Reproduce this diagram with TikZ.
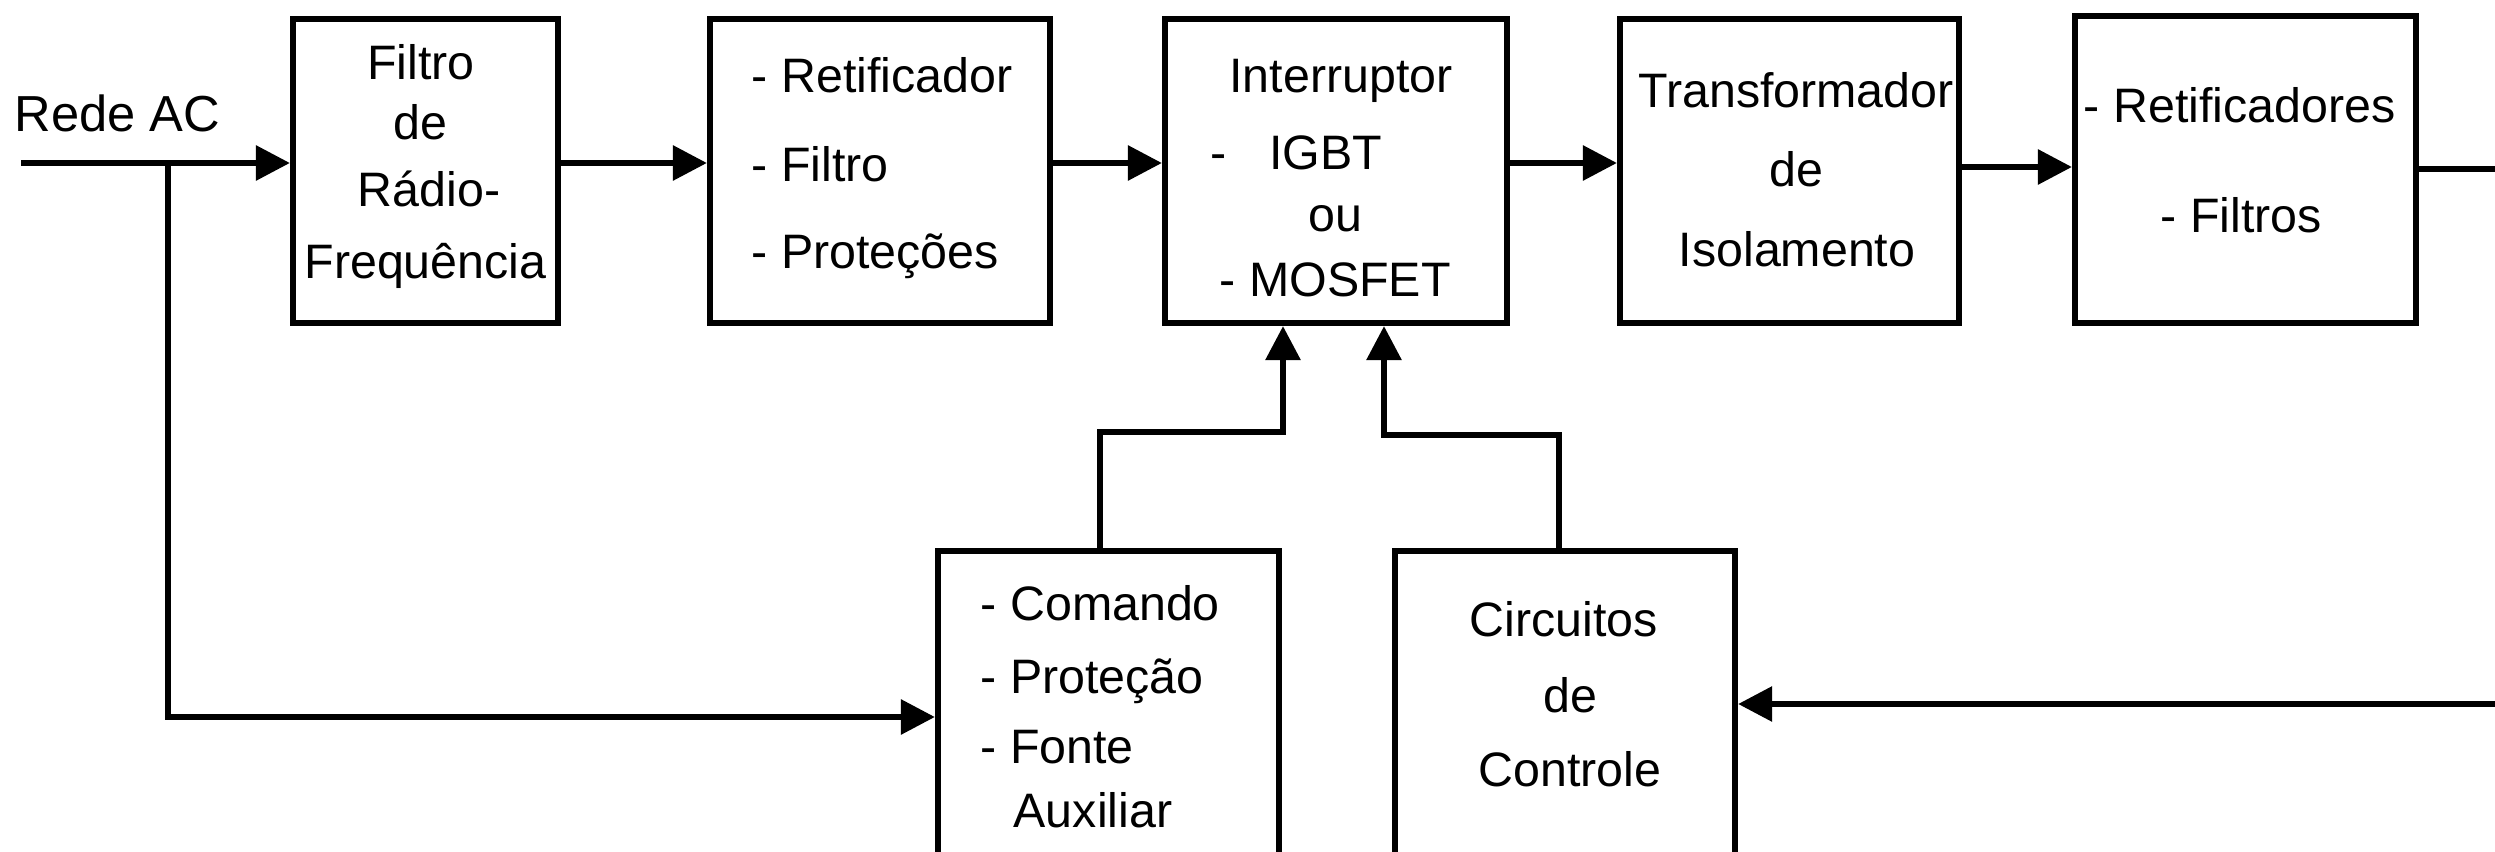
\documentclass[tikz,border=0pt]{standalone}
\usepackage{fontspec}
\setmainfont{Liberation Sans}
\usetikzlibrary{arrows.meta}
\begin{document}
\begin{tikzpicture}[x=0.01cm,y=-0.01cm,
  blk/.style={draw, line width=0.06cm, inner sep=0pt},
  txt/.style={inner sep=0pt, font=\fontsize{13.75pt}{16pt}\selectfont},
  arr/.style={line width=0.06cm, -{Triangle[length=0.34cm,width=0.34cm]}},
  ln/.style={line width=0.06cm}]
\useasboundingbox (0,0) rectangle (2495,852);
\clip (0,0) rectangle (2495,852);
% blocks
\node[blk, minimum width=2.65cm, minimum height=3.04cm] (b1) at (425.5,171) {};
\node[blk, minimum width=3.40cm, minimum height=3.04cm] (b2) at (880,171) {};
\node[blk, minimum width=3.42cm, minimum height=3.04cm] (b3) at (1336,171) {};
\node[blk, minimum width=3.39cm, minimum height=3.04cm] (b4) at (1789.5,171) {};
\node[blk, minimum width=3.41cm, minimum height=3.06cm] (b5) at (2245.5,169.5) {};
\node[blk, minimum width=3.41cm, minimum height=4.00cm] (b6) at (1108.5,751) {};
\node[blk, minimum width=3.40cm, minimum height=4.00cm] (b7) at (1565,751) {};
% texts
\node[txt, anchor=base west, font=\fontsize{14.4pt}{16pt}\selectfont] (tin) at (14,132) {Rede AC};
\node[txt, anchor=base] (t1a) at (421,80) {Filtro};
\node[txt, anchor=base] (t1b) at (420,140) {de};
\node[txt, anchor=base] (t1c) at (429,207) {Rádio-};
\node[txt, anchor=base] (t1d) at (425.5,279) {Frequência};
\node[txt, anchor=base west] (t2a) at (751,93) {- Retificador};
\node[txt, anchor=base west] (t2b) at (751,182) {- Filtro};
\node[txt, anchor=base west] (t2c) at (751,269) {- Proteções};
\node[txt, anchor=base] (t3a) at (1341,93) {Interruptor};
\node[txt, anchor=base west] (t3b) at (1210,170) {- \hspace{0.29cm}IGBT};
\node[txt, anchor=base] (t3c) at (1335,232) {ou};
\node[txt, anchor=base west] (t3d) at (1219,297) {- MOSFET};
\node[txt, anchor=base] (t4a) at (1796,108) {Transformador};
\node[txt, anchor=base] (t4b) at (1796,187) {de};
\node[txt, anchor=base] (t4c) at (1797,267) {Isolamento};
\node[txt, anchor=base west] (t5a) at (2083,123) {- Retificadores};
\node[txt, anchor=base west] (t5b) at (2160,233) {- Filtros};
\node[txt, anchor=base west] (t6a) at (980,620) {- Comando};
\node[txt, anchor=base west] (t6b) at (980,693) {- Proteção};
\node[txt, anchor=base west] (t6c) at (980,763) {- Fonte};
\node[txt, anchor=base west] (t6d) at (1013,827) {Auxiliar};
\node[txt, anchor=base] (t7a) at (1564,636) {Circuitos};
\node[txt, anchor=base] (t7b) at (1570,712) {de};
\node[txt, anchor=base] (t7c) at (1570,786) {Controle};
% helper coordinates
\coordinate (in) at (21,163);
\coordinate (br) at (168,163);
\coordinate (brd) at (168,717);
\coordinate (r1) at (0,163);
\coordinate (r4) at (0,167);
\coordinate (out) at (2510,169);
\coordinate (fb) at (2510,704);
\coordinate (c1) at (1100,432);
\coordinate (c2) at (1283,432);
\coordinate (c3) at (1559,435);
\coordinate (c4) at (1384,435);
% connectors
\draw[arr] (in) -- (in -| b1.west);
\draw[arr] (br) -- (brd) -- (brd -| b6.west);
\draw[arr] (r1 -| b1.east) -- (r1 -| b2.west);
\draw[arr] (r1 -| b2.east) -- (r1 -| b3.west);
\draw[arr] (r1 -| b3.east) -- (r1 -| b4.west);
\draw[arr] (r4 -| b4.east) -- (r4 -| b5.west);
\draw[ln] (out -| b5.east) -- (out);
\draw[arr] (fb) -- (fb -| b7.east);
\draw[arr] (c1 |- b6.north) -- (c1) -- (c2) -- (c2 |- b3.south);
\draw[arr] (c3 |- b7.north) -- (c3) -- (c4) -- (c4 |- b3.south);
\end{tikzpicture}
\end{document}
